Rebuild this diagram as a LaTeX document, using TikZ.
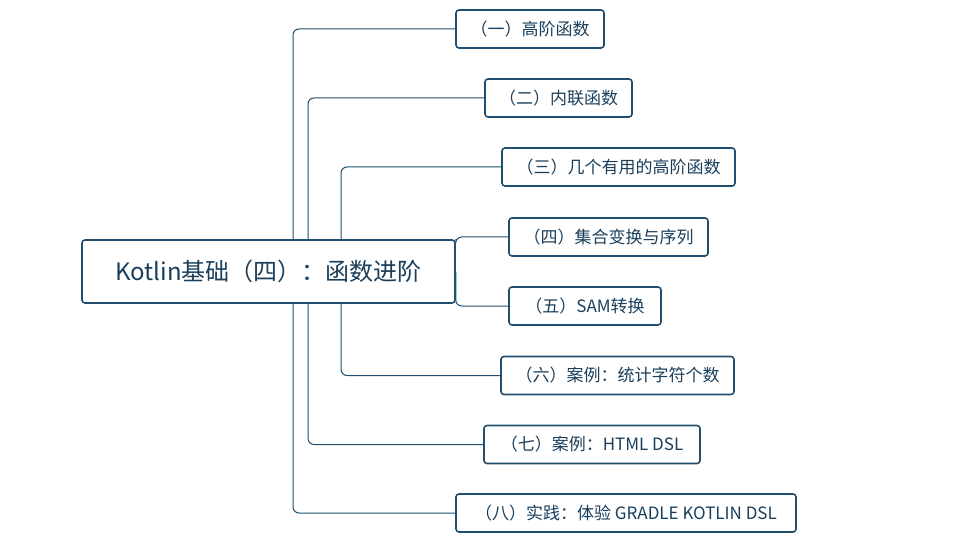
\documentclass[tikz,border=0pt]{standalone}
\usepackage{fontspec}
\setmainfont{Noto Sans CJK SC}
\usetikzlibrary{positioning}
\definecolor{mapblue}{HTML}{1F4E6E}
\definecolor{maptext}{HTML}{1A3F5C}

\begin{document}
\begin{tikzpicture}[x=1pt,y=-1pt,
  topic/.style={draw=mapblue,line width=1.6pt,rounded corners=3pt,fill=white,
    text=maptext,font=\fontsize{17}{20}\selectfont,inner sep=0pt,minimum height=38pt},
  root/.style={topic,font=\fontsize{24}{28}\selectfont,minimum width=373pt,minimum height=63pt},
  branch/.style={draw=mapblue,line width=1pt,rounded corners=6pt}]
\useasboundingbox (0,0) rectangle (972,540);

% Root
\node[root] (root) at (268.5,271.5) {Kotlin基础（四）：函数进阶};

% Children
\node[topic,minimum width=148pt] (c1) at (530,29) {（一）高阶函数};
\node[topic,minimum width=147pt] (c2) at (558.5,98) {（二）内联函数};
\node[topic,minimum width=233pt] (c3) at (618.5,167) {（三）几个有用的高阶函数};
\node[topic,minimum width=199pt] (c4) at (608.5,237) {（四）集合变换与序列};
\node[topic,minimum width=152pt] (c5) at (585,306) {（五）SAM转换};
\node[topic,minimum width=233pt] (c6) at (617.5,375.5) {（六）案例：统计字符个数};
\node[topic,minimum width=216pt] (c7) at (592,444.5) {（七）案例：HTML DSL};
\node[topic,minimum width=340pt] (c8) at (626,513) {（八）实践：体验 GRADLE KOTLIN DSL};

% Connectors
\coordinate (t1) at (293,240);
\coordinate (t2) at (308,240);
\coordinate (t3) at (341,240);
\coordinate (b6) at (341,303);
\coordinate (b7) at (308,303);
\coordinate (b8) at (293,303);
\draw[branch] (t1) |- (c1.west);
\draw[branch] (t2) |- (c2.west);
\draw[branch] (t3) |- (c3.west);
\draw[branch] (root.north east) |- (c4.west);
\draw[branch] (root.east) |- (c5.west);
\draw[branch] (b6) |- (c6.west);
\draw[branch] (b7) |- (c7.west);
\draw[branch] (b8) |- (c8.west);

\end{tikzpicture}
\end{document}
